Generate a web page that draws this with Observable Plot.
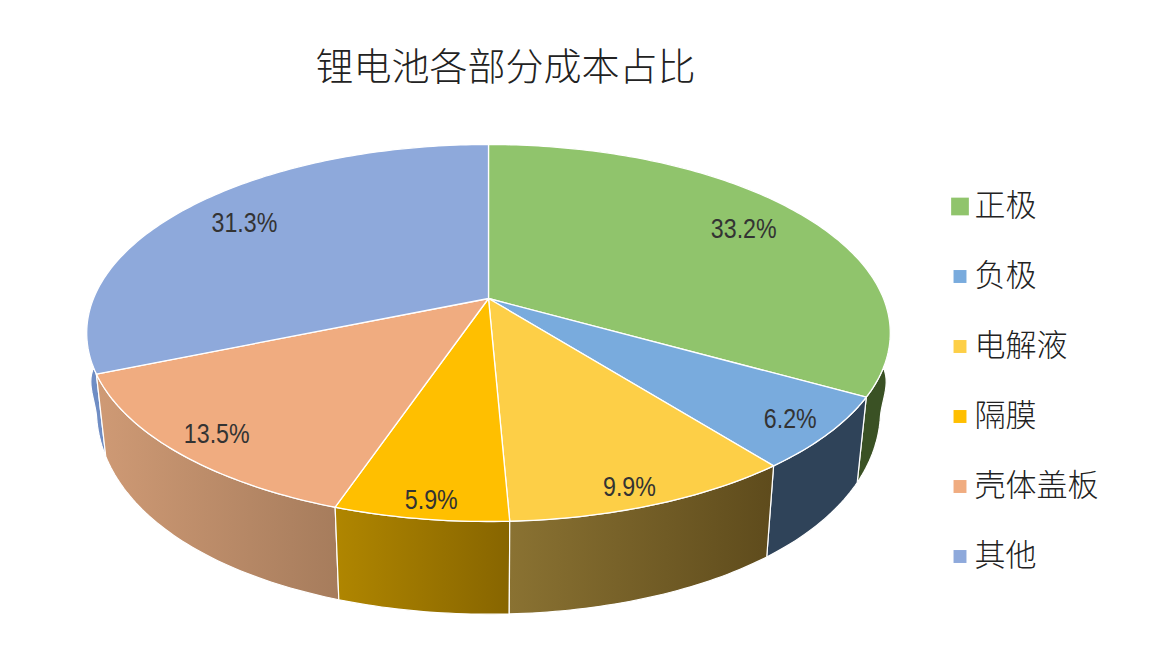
<!DOCTYPE html>
<html lang="zh">
<head>
<meta charset="utf-8">
<script src="https://cdn.jsdelivr.net/npm/d3@7"></script>
<script src="https://cdn.jsdelivr.net/npm/@observablehq/plot@0.6"></script>
<style>
html,body{margin:0;padding:0;background:#fff}
svg{display:block}
</style>
</head>
<body>
<div id="chart"></div>
<script>
const chartTitle = "锂电池各部分成本占比";
const categories = ["正极", "负极", "电解液", "隔膜", "壳体盖板", "其他"];
const shares = [33.2, 6.2, 9.9, 5.9, 13.5, 31.3];
const topColors = ["#90C46C", "#79ABDD", "#FDCF47", "#FFBF00", "#F0AC80", "#8EA9DB"];
const sideStart = ["#3A5124", "#2F4359", "#8A7232", "#B08600", "#CF9A75", "#6F8DC4"];
const sideEnd = ["#3A5124", "#2F4359", "#5E4B1C", "#876500", "#A67C5C", "#6F8DC4"];
const labelRadius = [0.81, 0.91, 0.93, 0.93, 0.90, 0.81];
const labelNudge = [-2, -4, -11, 5, 4, 2];
const legendSize = [10, 7.3, 7.3, 7.3, 7.3, 7.3];

// Perspective model of the tilted disc, fitted to the picture
const cx = 488, cy = 298;
const topA = 395, topB = 182.2, topP = 0.183;
function topPoint(angle, r = 1) {
  const u = r * Math.sin(angle), v = r * Math.cos(angle), k = 1 + topP * v;
  return {x: cx + topA * u / k, y: cy - topB * v / k};
}
function basePoint(angle) {
  const t = topPoint(angle), v = Math.cos(angle);
  const m = Math.min(1, Math.max(0, (v + 0.22) / 0.2));
  const s = 0.976 + 0.024 * m * m * (3 - 2 * m);
  return {x: cx + s * (t.x - cx), y: 367 - 222 * v / (1 + 0.1 * v)};
}

const total = d3.sum(shares);
let acc = 0;
const slices = shares.map((s, i) => {
  const a0 = acc / total * 2 * Math.PI;
  acc += s;
  const a1 = acc / total * 2 * Math.PI;
  const n = Math.max(8, Math.ceil((a1 - a0) * 60));
  const angles = d3.range(n + 1).map(k => a0 + (a1 - a0) * k / n);
  return {i, a0, a1, mid: (a0 + a1) / 2, angles};
});

const common = {x: "x", y: "y", stroke: "white", strokeLinejoin: "round"};
const sideOrder = [5, 0, 4, 1, 3, 2];

const sideMarks = sideOrder.map(i => {
  const s = slices[i];
  const rim = s.angles.map(a => topPoint(a));
  const base = s.angles.slice().reverse().map(a => basePoint(a));
  const pts = [...rim, ...base, rim[0]];
  return Plot.line(pts, {...common, fill: `url(#side${i})`, strokeWidth: 1.2});
});

const topMarks = slices.map(s => {
  const rim = s.angles.map(a => topPoint(a));
  const pts = [{x: cx, y: cy}, ...rim, {x: cx, y: cy}];
  return Plot.line(pts, {...common, fill: topColors[s.i], strokeWidth: 1.3});
});

const labels = slices.map(s => {
  const p = topPoint(s.mid, labelRadius[s.i]);
  return {x: p.x + labelNudge[s.i], y: p.y, text: shares[s.i].toFixed(1) + "%"};
});

const legend = categories.map((name, i) => ({name, i, y: 206 + i * 70}));

const defs = () => {
  const d = d3.create("svg:defs");
  slices.forEach(s => {
    const g = d.append("linearGradient").attr("id", `side${s.i}`);
    g.append("stop").attr("offset", "0%").attr("stop-color", sideStart[s.i]);
    g.append("stop").attr("offset", "100%").attr("stop-color", sideEnd[s.i]);
  });
  return d.node();
};

const cjk = "'Noto Sans CJK SC','Noto Sans',sans-serif";

const chart = Plot.plot({
  width: 1168,
  height: 648,
  margin: 0,
  style: {background: "#fff", overflow: "visible"},
  x: {axis: null, domain: [0, 1168], range: [0, 1168]},
  y: {axis: null, domain: [0, 648], range: [0, 648]},
  r: {type: "identity"},
  marks: [
    defs,
    ...sideMarks,
    ...topMarks,
    Plot.text(labels, {
      x: "x", y: "y", text: "text", fill: "#333", fontSize: 27,
      fontFamily: "'Liberation Sans',Arial,sans-serif",
      className: "pct"
    }),
    Plot.text([chartTitle], {
      x: [505], y: [67], text: d => d, fontSize: 38, fill: "#222",
      fontFamily: cjk, fontWeight: 300
    }),
    Plot.dot(legend, {
      x: 959.5, y: "y", symbol: "square", r: (d) => legendSize[d.i],
      fill: (d) => topColors[d.i], stroke: "none"
    }),
    Plot.text(legend, {
      x: 974, y: "y", text: "name", textAnchor: "start", fontSize: 31, fill: "#222",
      fontFamily: cjk, fontWeight: 300
    })
  ]
});
document.getElementById("chart").append(chart);
// The reference's percent labels are horizontally condensed
chart.querySelectorAll(".pct text").forEach(t => {
  t.setAttribute("textLength", (t.getComputedTextLength() * 0.86).toFixed(1));
  t.setAttribute("lengthAdjust", "spacingAndGlyphs");
});
</script>
</body>
</html>
